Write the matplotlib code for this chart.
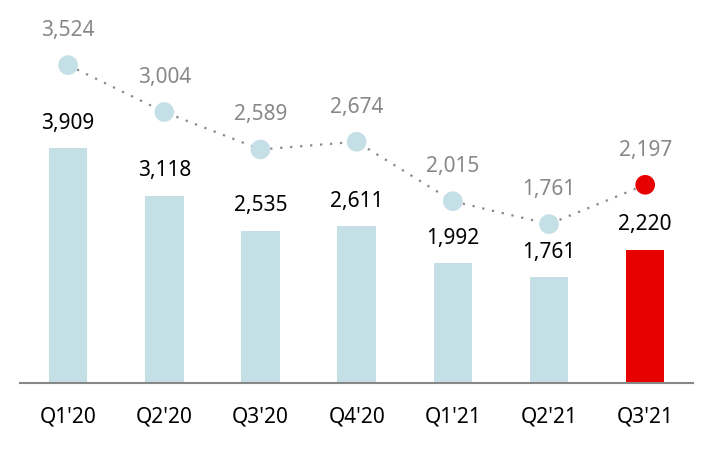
import matplotlib.pyplot as plt

plt.rcParams['font.family'] = ['Noto Sans', 'DejaVu Sans']

# データ
quarters = ["Q1'20", "Q2'20", "Q3'20", "Q4'20", "Q1'21", "Q2'21", "Q3'21"]
bar_values = [3909, 3118, 2535, 2611, 1992, 1761, 2220]
line_values = [3524, 3004, 2589, 2674, 2015, 1761, 2197]

light_blue = '#c5dfe6'
red = '#e60000'
bar_colors = [light_blue] * 6 + [red]
point_colors = [light_blue] * 6 + [red]

fig = plt.figure(figsize=(7.14, 4.5), dpi=100)
ax = fig.add_axes([0.028, 0.149, 0.943, 0.851])
x = range(len(quarters))

# 棒グラフ
ax.bar(x, bar_values, width=0.4, color=bar_colors, zorder=2)
for i, v in enumerate(bar_values):
    ax.annotate(f"{v:,}", (i, v), xytext=(0, 18), textcoords='offset points',
                ha='center', va='center', fontsize=15, color='black')

ax.set_xlim(-0.5, 6.5)
ax.set_ylim(0, 6373)
ax.set_xticks(list(x))
ax.set_xticklabels(quarters, fontsize=15)
ax.tick_params(axis='x', length=0, pad=17)
ax.set_yticks([])
for s in ['top', 'right', 'left']:
    ax.spines[s].set_visible(False)
ax.spines['bottom'].set_color('#888888')
ax.spines['bottom'].set_linewidth(1.5)

# 折れ線（第2軸）
ax2 = ax.twinx()
ax2.set_ylim(0, 4246)
ax2.plot(list(x), line_values, color='#888888', linestyle=(0, (1, 3.5)),
         linewidth=1.6, zorder=1)
ax2.scatter(list(x), line_values, s=200, color=point_colors, zorder=3,
            edgecolors='none')
for i, v in enumerate(line_values):
    ax2.annotate(f"{v:,}", (i, v), xytext=(0, 25), textcoords='offset points',
                 ha='center', va='center', fontsize=15, color='#888888')
ax2.set_yticks([])
for s in ax2.spines.values():
    s.set_visible(False)

fig.savefig('out.png', dpi=100)
